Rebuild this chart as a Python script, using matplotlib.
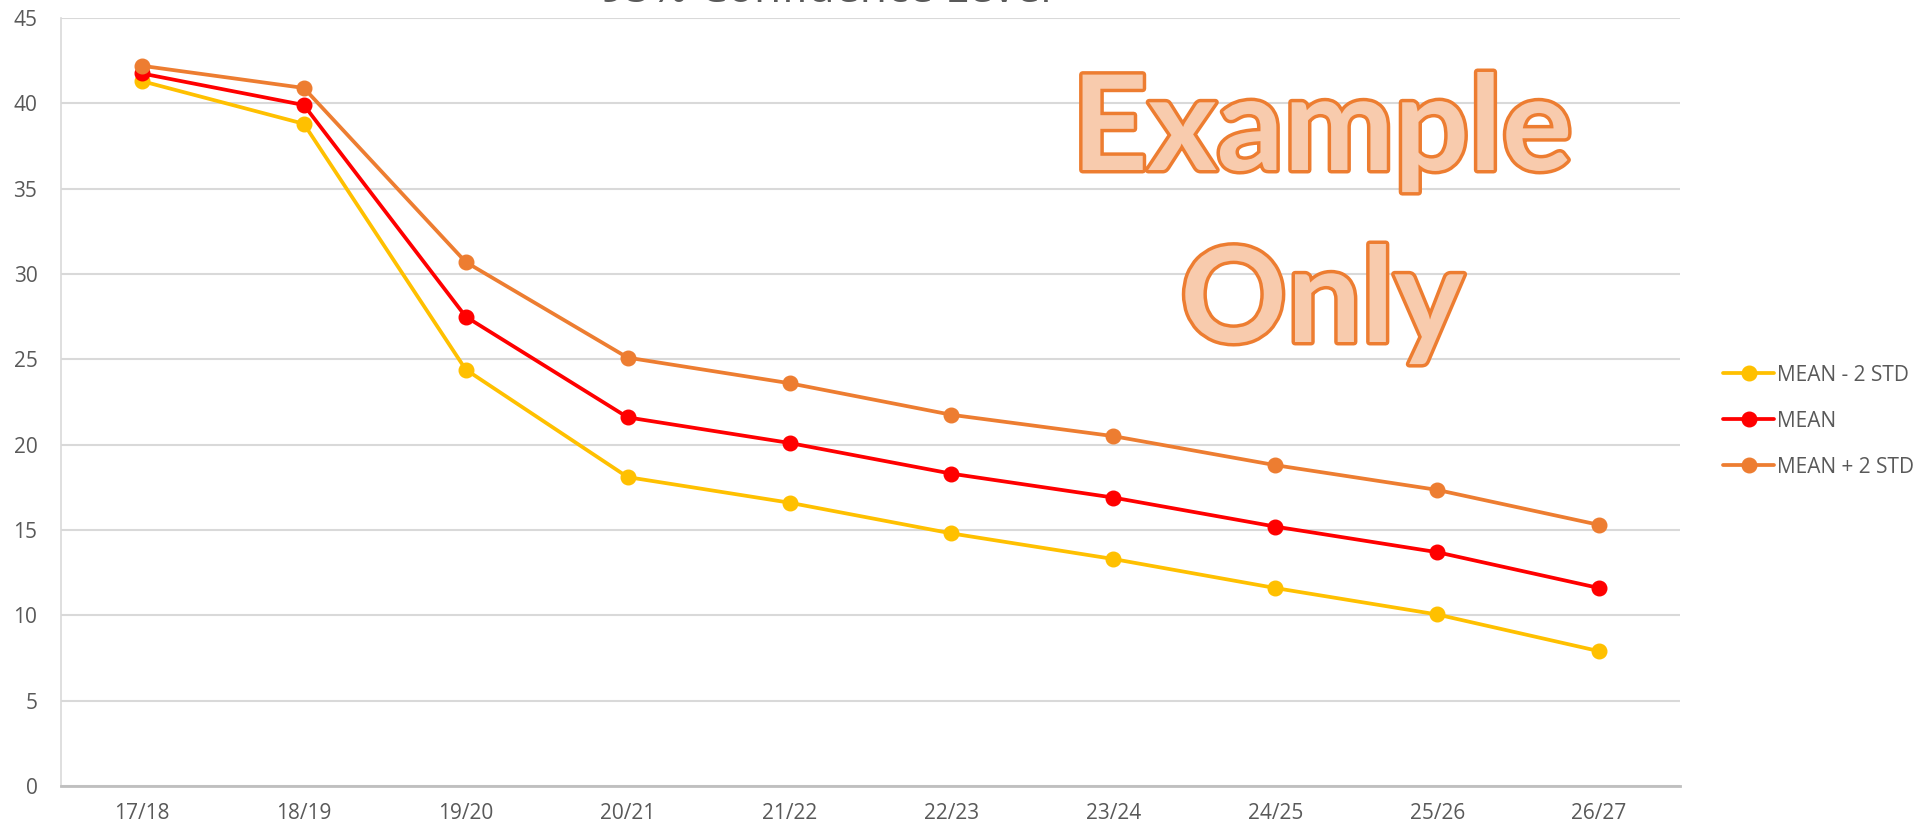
import matplotlib
matplotlib.use("Agg")
import matplotlib.pyplot as plt
import matplotlib.patheffects as pe

categories = ["17/18", "18/19", "19/20", "20/21", "21/22", "22/23", "23/24", "24/25", "25/26", "26/27"]
mean_minus = [41.3, 38.8, 24.4, 18.1, 16.6, 14.8, 13.3, 11.6, 10.05, 7.9]
mean = [41.75, 39.9, 27.5, 21.6, 20.1, 18.3, 16.9, 15.2, 13.7, 11.6]
mean_plus = [42.2, 40.9, 30.7, 25.1, 23.6, 21.75, 20.5, 18.8, 17.35, 15.3]
series_names = ["MEAN - 2 STD", "MEAN", "MEAN + 2 STD"]
colors = ["#FFC000", "#FF0000", "#ED7D31"]
yticks = [0, 5, 10, 15, 20, 25, 30, 35, 40, 45]

W, H = 1926, 830
fig = plt.figure(figsize=(W / 100, H / 100), dpi=100)
plt.rcParams['font.family'] = ['Open Sans', 'DejaVu Sans']

left, right, top, bottom = 61, 1680, 18, 786
ax = fig.add_axes([left / W, 1 - bottom / H, (right - left) / W, (bottom - top) / H])

x = list(range(len(categories)))
for vals, name, c in zip([mean_minus, mean, mean_plus], series_names, colors):
    ax.plot(x, vals, color=c, lw=2.7, marker='o', markersize=10.5, label=name,
            solid_capstyle='round', zorder=3)

ax.set_xlim(-0.5, len(categories) - 0.5)
ax.set_ylim(0, 45)
ax.set_yticks(yticks)
ax.set_xticks(x)
ax.set_xticklabels(categories)
ax.grid(axis='y', color='#D9D9D9', lw=1.5, zorder=0)
ax.set_axisbelow(True)
for s in ['top', 'right']:
    ax.spines[s].set_visible(False)
ax.spines['left'].set_color('#D9D9D9')
ax.spines['left'].set_linewidth(1.2)
ax.spines['bottom'].set_color('#BFBFBF')
ax.spines['bottom'].set_linewidth(2.0)
ax.tick_params(axis='y', length=0, pad=17, labelsize=15, labelcolor='#595959')
ax.tick_params(axis='x', length=0, pad=12, labelsize=15, labelcolor='#595959')

leg = ax.legend(loc='center left', bbox_to_anchor=(1723 / W, 1 - 421 / H),
                bbox_transform=fig.transFigure, frameon=False, fontsize=15,
                handlelength=2.47, handletextpad=0.1, labelspacing=1.2,
                borderpad=0, borderaxespad=0)
for t in leg.get_texts():
    t.set_color('#595959')

# partially visible title at the top
fig.text(826 / W, 1 - 2.2 / H, "95% Confidence Level", ha='center', va='baseline',
         fontsize=32, color='#595959')

# watermark
wm_kw = dict(ha='center', va='baseline', fontsize=95, fontweight='bold',
             family=['Lato', 'DejaVu Sans'], color='#F8CBAD',
             path_effects=[pe.withStroke(linewidth=5, foreground='#ED7D31')], zorder=5)
fig.text(1322 / W, 1 - 170 / H, "Example", **wm_kw)
fig.text(1322 / W, 1 - 342 / H, "Only", **wm_kw)

fig.savefig("out.png", dpi=100)
